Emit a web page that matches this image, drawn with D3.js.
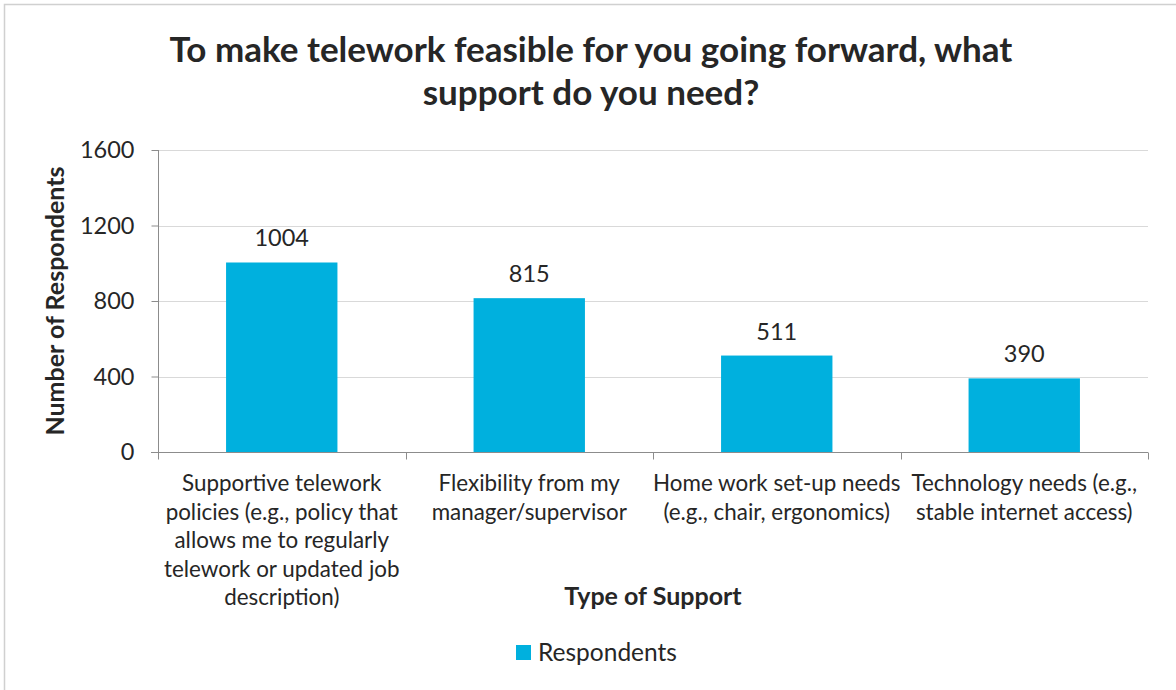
<!DOCTYPE html>
<html>
<head>
<meta charset="utf-8">
<script src="https://cdn.jsdelivr.net/npm/d3@7"></script>
<style>
  html, body { margin: 0; padding: 0; background: #fff; }
  svg { display: block; }
  text { font-family: Lato, "Open Sans", sans-serif; fill: #262626; }
</style>
</head>
<body>
<svg id="chart" width="1176" height="690"></svg>
<script>
// Survey responses: support needed to make telework feasible
const categories = [
  "Supportive telework policies (e.g., policy that allows me to regularly telework or updated job description)",
  "Flexibility from my manager/supervisor",
  "Home work set-up needs (e.g., chair, ergonomics)",
  "Technology needs (e.g., stable internet access)"
];
const categoryLines = [
  ["Supportive telework", "policies (e.g., policy that", "allows me to regularly", "telework or updated job", "description)"],
  ["Flexibility from my", "manager/supervisor"],
  ["Home work set-up needs", "(e.g., chair, ergonomics)"],
  ["Technology needs (e.g.,", "stable internet access)"]
];
const respondents = [1004, 815, 511, 390];
const yTicks = [0, 400, 800, 1200, 1600];
const titleLines = ["To make telework feasible for you going forward, what", "support do you need?"];
const seriesName = "Respondents";

const W = 1176, H = 690;
const margin = { left: 158, right: 28, top: 150, bottom: 238 };
const barColor = "#00B0DE";
const axisColor = "#8c8c8c";
const gridColor = "#d9d9d9";

const svg = d3.select("#chart");

// outer frame
svg.append("rect")
  .attr("x", 4.5).attr("y", 4.5)
  .attr("width", W + 20).attr("height", H + 20)
  .attr("fill", "none").attr("stroke", "#d0d0d0").attr("stroke-width", 1.5);

const x = d3.scaleBand()
  .domain(categories)
  .range([margin.left, W - margin.right])
  .paddingInner(0.55).paddingOuter(0.275);

const xBand = d3.scaleBand()
  .domain(categories)
  .range([margin.left, W - margin.right]);

const y = d3.scaleLinear()
  .domain([0, 1600])
  .range([H - margin.bottom, margin.top]);

// gridlines
svg.append("g")
  .selectAll("line")
  .data(yTicks.filter(d => d > 0))
  .join("line")
  .attr("x1", margin.left).attr("x2", W - margin.right)
  .attr("y1", d => Math.round(y(d)) + 0.5).attr("y2", d => Math.round(y(d)) + 0.5)
  .attr("stroke", gridColor).attr("stroke-width", 1);

// bars
svg.append("g")
  .selectAll("rect")
  .data(respondents)
  .join("rect")
  .attr("x", (d, i) => x(categories[i]))
  .attr("width", x.bandwidth())
  .attr("y", d => y(d))
  .attr("height", d => y(0) - y(d))
  .attr("fill", barColor);

// value labels
svg.append("g")
  .selectAll("text")
  .data(respondents)
  .join("text")
  .attr("x", (d, i) => x(categories[i]) + x.bandwidth() / 2)
  .attr("y", d => y(d) - 16)
  .attr("text-anchor", "middle")
  .attr("font-size", 23.5)
  .text(d => d);

// y axis
const yAxis = svg.append("g")
  .attr("transform", `translate(${margin.left + 0.5},0)`)
  .call(d3.axisLeft(y).tickValues(yTicks).tickFormat(d3.format("d")).tickSize(7).tickPadding(17));
yAxis.select(".domain").attr("stroke", axisColor).attr("d", `M0,${y(1600)}V${y(0) + 7}`);
yAxis.selectAll(".tick line").attr("stroke", axisColor);
yAxis.selectAll(".tick text")
  .attr("font-size", 23.5).attr("fill", "#262626")
  .attr("font-family", "Lato, 'Open Sans', sans-serif");

// x axis with ticks at category boundaries
const xAxisG = svg.append("g")
  .attr("transform", `translate(0,${Math.round(y(0)) + 0.5})`);
xAxisG.append("line")
  .attr("x1", margin.left - 7).attr("x2", W - margin.right)
  .attr("stroke", axisColor);
const bounds = categories.map(c => xBand(c)).concat([W - margin.right]);
xAxisG.selectAll("line.tk")
  .data(bounds)
  .join("line")
  .attr("class", "tk")
  .attr("x1", d => Math.round(d) + 0.5).attr("x2", d => Math.round(d) + 0.5)
  .attr("y1", 0).attr("y2", 7)
  .attr("stroke", axisColor);

// category labels
const catG = svg.append("g");
categoryLines.forEach((lines, i) => {
  const cx = xBand(categories[i]) + xBand.bandwidth() / 2;
  const t = catG.append("text")
    .attr("text-anchor", "middle")
    .attr("font-size", 22.4);
  lines.forEach((ln, j) => {
    t.append("tspan").attr("x", cx).attr("y", 491 + j * 28.5).text(ln);
  });
});

// title
const title = svg.append("text")
  .attr("text-anchor", "middle")
  .attr("font-size", 35)
  .attr("font-weight", "bold");
titleLines.forEach((ln, j) => {
  title.append("tspan").attr("x", 591).attr("y", 62 + j * 43).text(ln);
});

// axis titles
svg.append("text")
  .attr("transform", `translate(64,${(y(0) + y(1600)) / 2}) rotate(-90)`)
  .attr("text-anchor", "middle")
  .attr("font-size", 25).attr("font-weight", "bold")
  .text("Number of Respondents");

svg.append("text")
  .attr("x", (margin.left + W - margin.right) / 2)
  .attr("y", 605)
  .attr("text-anchor", "middle")
  .attr("font-size", 25).attr("font-weight", "bold")
  .text("Type of Support");

// legend
const legend = svg.append("g").attr("transform", "translate(516,645)");
legend.append("rect").attr("width", 15).attr("height", 15).attr("fill", barColor);
legend.append("text").attr("x", 22).attr("y", 15.5).attr("font-size", 24.5).text(seriesName);
</script>
</body>
</html>
